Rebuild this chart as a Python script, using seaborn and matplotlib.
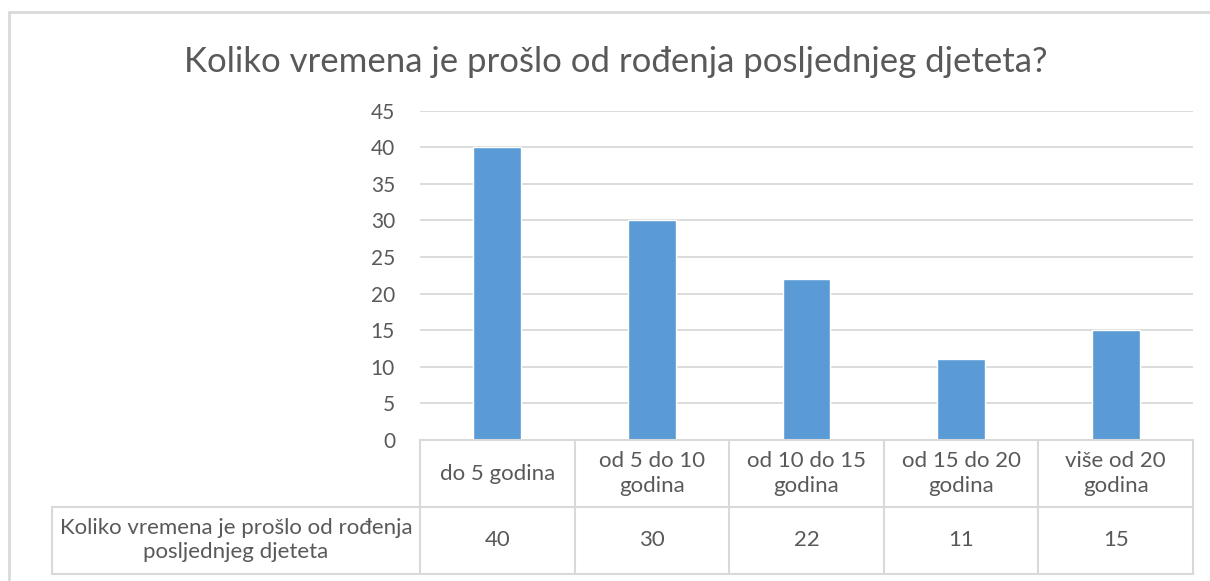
import matplotlib
matplotlib.use("Agg")
import matplotlib.pyplot as plt
import seaborn as sns
from matplotlib.patches import Rectangle

# data
categories = ["do 5 godina", "od 5 do 10\ngodina", "od 10 do 15\ngodina",
              "od 15 do 20\ngodina", "više od 20\ngodina"]
counts = [40, 30, 22, 11, 15]
series_name = "Koliko vremena je prošlo od rođenja\nposljednjeg djeteta"
title = "Koliko vremena je prošlo od rođenja posljednjeg djeteta?"
yticks = [0, 5, 10, 15, 20, 25, 30, 35, 40, 45]

W, H = 1210, 581
bar_color = "#5B9BD5"
text_color = "#595959"
line_color = "#D9D9D9"

sns.set_theme(style="white")
plt.rcParams["font.family"] = ["Lato", "DejaVu Sans"]

fig = plt.figure(figsize=(W / 100, H / 100), dpi=100)

# outer chart frame (left and top edges visible, rest cut off)
fig.patches.append(Rectangle((8.5 / W, -0.1), 1.2, (H - 12 + 0.1 * H) / H,
                             transform=fig.transFigure, fill=False,
                             edgecolor=line_color, linewidth=2))

# bar plot area
x0, x1 = 420, 1193
y_top, y_zero = 110.5, 440
ax = fig.add_axes([x0 / W, (H - y_zero) / H, (x1 - x0) / W, (y_zero - y_top) / H])
sns.barplot(x=list(range(len(counts))), y=counts, ax=ax, color=bar_color,
            width=0.31, saturation=1)
ax.set_xlim(-0.5, len(counts) - 0.5)
ax.set_ylim(0, 45)
ax.set_yticks(yticks)
ax.set_xticks([])
ax.yaxis.grid(True, color=line_color, linewidth=1.3)
ax.set_axisbelow(True)
for s in ax.spines.values():
    s.set_visible(False)
ax.tick_params(axis="y", length=0, pad=18, labelsize=15, labelcolor=text_color)
ax.set_xlabel("")
ax.set_ylabel("")

fig.text(0.509, (H - 62) / H, title, ha="center", va="center",
         fontsize=25, color=text_color)

# data table under the plot
t_left, t_bottom = 52, 574
ncol = len(counts)
col_w = (x1 - x0) / ncol
label_w = (x0 - t_left) / col_w
tax = fig.add_axes([t_left / W, (H - t_bottom) / H, (x1 - t_left) / W, (t_bottom - y_zero) / H])
tax.set_xlim(-0.5 - label_w, ncol - 0.5)
tax.set_ylim(0, 2)
tax.axis("off")
lk = dict(color=line_color, linewidth=1.5, clip_on=False)
tax.plot([-0.5, ncol - 0.5], [2, 2], **lk)
tax.plot([-0.5 - label_w, ncol - 0.5], [1, 1], **lk)
tax.plot([-0.5 - label_w, ncol - 0.5], [0, 0], **lk)
for i in range(ncol + 1):
    tax.plot([i - 0.5, i - 0.5], [0, 2], **lk)
tax.plot([-0.5 - label_w, -0.5 - label_w], [0, 1], **lk)

for i, (cat, val) in enumerate(zip(categories, counts)):
    tax.text(i, 1.5, cat, ha="center", va="center", fontsize=16,
             color=text_color, linespacing=1.3)
    tax.text(i, 0.5, str(val), ha="center", va="center", fontsize=16,
             color=text_color)
tax.text(-0.5 - label_w / 2, 0.5, series_name, ha="center", va="center",
         fontsize=16, color=text_color, linespacing=1.25)

fig.savefig("out.png", dpi=100)
